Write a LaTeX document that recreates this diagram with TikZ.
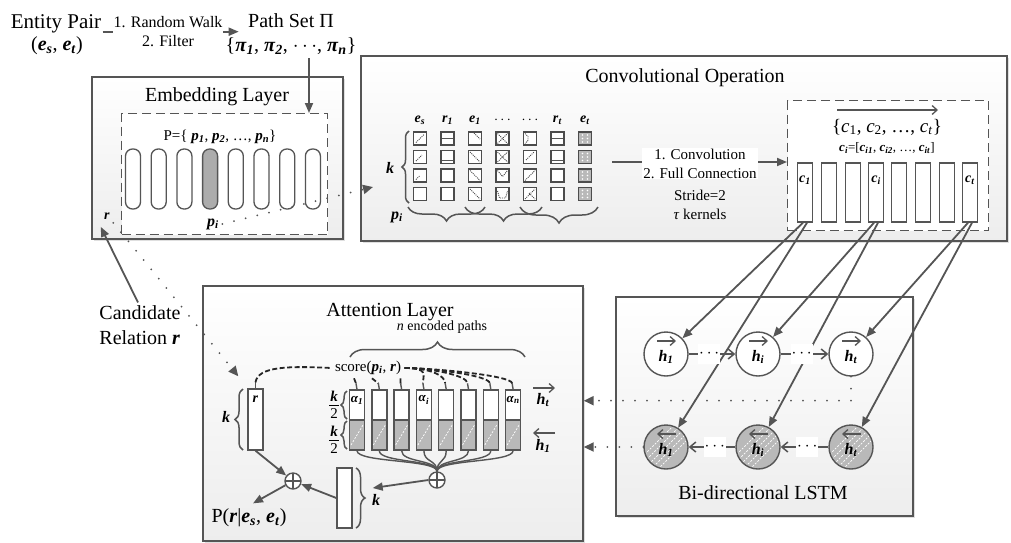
\documentclass[tikz,border=0pt]{standalone}
\usepackage{fontspec}
\setmainfont{Liberation Serif}
\usetikzlibrary{arrows.meta,decorations.pathreplacing,shadows,calc}
\newcommand{\bix}[1]{\textbf{\textit{#1}}}
\newcommand{\bsub}[2]{\bix{#1}\textsubscript{\bix{#2}}}
\definecolor{ln}{HTML}{555555}
\tikzset{
  t21/.style={font=\fontsize{21}{25}\selectfont},
  t20/.style={font=\fontsize{20}{25}\selectfont},
  t19/.style={font=\fontsize{19}{22}\selectfont},
  t16/.style={font=\fontsize{16}{19}\selectfont},
  t15/.style={font=\fontsize{15}{19}\selectfont},
  t14/.style={font=\fontsize{14}{17}\selectfont},
  t13/.style={font=\fontsize{13}{16}\selectfont},
  panel/.style={draw=ln, line width=1.7pt, top color=white, bottom color=gray!14, anchor=north west, inner sep=0pt,
     drop shadow={shadow xshift=2pt, shadow yshift=-2pt, opacity=0.25}},
  dbox/.style={draw=ln, line width=1.4pt, dash pattern=on 9pt off 5pt, fill=white, anchor=north west, inner sep=0pt},
  arr/.style={draw=ln, line width=1.8pt, -{Triangle[length=10pt,width=8pt]}},
  dotarr/.style={draw=ln, line width=2pt, line cap=round, dash pattern=on 0pt off 12pt, -{Triangle[length=10pt,width=9pt]}},
  thinarr/.style={draw=ln, line width=1.3pt, -{Straight Barb[length=5pt,width=9pt]}},
  chainarr/.style={draw=ln, line width=1.5pt, -{Straight Barb[length=6pt,width=10pt]}},
  dashc/.style={draw=black!85, line width=1.8pt, dash pattern=on 5pt off 2.5pt},
  vec/.style={draw=ln, line width=1.4pt, fill=white, minimum width=15pt, inner sep=0pt},
  pill/.style={draw=ln, line width=1.3pt, rounded corners=7pt, minimum width=15pt, minimum height=60pt, inner sep=0pt},
  brc/.style={draw=ln, line width=1.5pt, decorate, decoration={brace, amplitude=#1}},
  fcirc/.style={circle, draw=ln, line width=1.4pt, fill=white, minimum size=44pt, inner sep=0pt, font=\fontsize{16}{19}\selectfont},
  bcirc/.style={fcirc, fill=gray!55, path picture={\foreach \o in {-14,-7,0,7,14}{\draw[white, line width=0.7pt, dash pattern=on 2pt off 1.5pt] ($(path picture bounding box.center)+(\o-22,22)$) -- ++(44,-44);}}},
  oplus/.style={circle, draw=ln, line width=1.4pt, fill=white, minimum size=16pt, inner sep=0pt, path picture={\draw[ln, line width=1.2pt] (path picture bounding box.north) -- (path picture bounding box.south) (path picture bounding box.west) -- (path picture bounding box.east);}},
  cellb/.style={draw=gray!60!black, line width=1.5pt, fill=white},
  pat/.style={draw=gray!60!black, line width=0.9pt, dash pattern=on 1pt off 1pt},
  dotsn/.style={fill=white, inner sep=0pt, minimum width=22pt, minimum height=20pt, font=\fontsize{16}{16}\selectfont},
  halfd/.style={vec, minimum height=30pt, fill=gray!55, path picture={\draw[white, line width=0.7pt, dash pattern=on 2pt off 1.5pt] ($(path picture bounding box.center)+(-6,10)$) -- ++(12,-20);}},
  frac/.style={font=\fontsize{15}{17}\selectfont, align=center, inner sep=0pt},
}
\begin{document}
\begin{tikzpicture}[x=1pt,y=-1pt]
\useasboundingbox (0,0) rectangle (1011,542);

% ---------- panels ----------
\node[panel, minimum width=251pt, minimum height=162pt] (emb) at (91,76) {};
\node[panel, minimum width=646pt, minimum height=185pt] (conv) at (360,55) {};
\node[panel, minimum width=380pt, minimum height=255pt] (att) at (202,285) {};
\node[panel, minimum width=297pt, minimum height=219pt] (lstm) at (615,296) {};

% ---------- top ----------
\node[t21] (ep) at (56,24) {Entity Pair};
\node[t20] (eps) at (57,46) {(\bsub{e}{s}, \bsub{e}{t})};
\node[t20] (ps) at (291,21) {Path Set Π};
\node[t20] (pset) at (291,46) {\{\bsub{π}{1}, \bsub{π}{2}, $\cdots$, \bsub{π}{n}\}};
\coordinate (ws) at ($(ep.base east)+(-2,3)$);
\draw[arr, shorten >=6pt] (ws) -- (ws -| ps.west);
\node[t16, fill=white, align=center, inner sep=1pt] (rw) at (168,31.5) {1. Random Walk\\2. Filter};

% ---------- embedding ----------
\node[t20] (embt) at (217,97) {Embedding Layer};
\node[dbox, minimum width=206pt, minimum height=121pt] (embd) at (121,113) {};
\coordinate (pa) at (309,0);
\draw[arr] (pset.south -| pa) -- (embd.north -| pa);
\node[t15] (pp) at (220,137) {P=\{ \bsub{p}{1}, \bsub{p}{2}, …, \bsub{p}{n}\}};
\foreach \i/\f in {0/white,1/white,2/white,3/gray!65,4/white,5/white,6/white,7/white}
  \node[pill, fill=\f] (pl\i) at ({133+25.7*\i},179) {};
\node[t14] (rl) at (107,216) {\bix{r}};
\node[t16] (pi) at (213,224) {\bsub{p}{i}};

% ---------- convolution ----------
\node[t20] (convt) at (685,78) {Convolutional Operation};
\foreach \x/\t in {420/{\bsub{e}{s}},447.5/{\bsub{r}{1}},475/{\bsub{e}{1}},502.5/{$\cdots$},530/{$\cdots$},557.5/{\bsub{r}{t}},585/{\bsub{e}{t}}}
  \node[t14] at (\x,120) {\t};
\foreach \cx in {420,447.5,475,502.5,530,557.5}
  \foreach \cy in {138.5,157,175.5,194}
    \draw[cellb] (\cx-6.5,\cy-6.5) rectangle (\cx+6.5,\cy+6.5);
\foreach \cy in {138.5,157,175.5,194} {
  \draw[cellb, fill=gray!55] (578.5,\cy-6.5) rectangle (591.5,\cy+6.5);
  \foreach \dx in {-2.5,2.5} \foreach \dy in {-3.5,0,3.5} \fill[white] (585+\dx,\cy+\dy) circle[radius=0.9pt];
}
% cell patterns
\draw[pat] (416,142.5) -- (424,134.5);
\draw[pat] (416,161) -- (422,155);
\draw[pat] (416,179.5) -- (419.5,176);
\draw[ln, line width=1.3pt] (442,138.5) -- (453,138.5);
\draw[ln, line width=1.6pt] (442,160.5) -- (453,160.5);
\draw[pat] (474,133) -- (480,139);
\foreach \cy in {157,175.5,194} \draw[pat] (470,\cy-5) -- (480,\cy+5);
\foreach \cy in {138.5,157} {\draw[pat] (497.5,\cy-5) -- (507.5,\cy+5); \draw[pat] (497.5,\cy+5) -- (507.5,\cy-5);}
\draw[pat] (497.5,170.5) -- (502.5,176.5) -- (507.5,170.5);
\draw[pat] (497.5,191) -- (499.5,198) -- (505.5,198) -- (507.5,191);
\draw[pat] (525,133.5) -- (528,136.5) -- (528,140.5) -- (525,143.5);
\draw[pat] (526,160) -- (534,152);
\draw[pat] (525,180.5) -- (535,170.5);
\draw[pat] (525,199) -- (535,189); \draw[pat] (529,193) -- (535,199);
\draw[ln, line width=1.3pt] (552,138.5) -- (563,138.5);
\draw[ln, line width=1.6pt] (552,160.5) -- (563,160.5);
% braces
\draw[brc=7pt] (409,203) -- (409,131);
\node[t16] (kl) at (390,168) {\bix{k}};
\node[t16] (pil) at (397,217) {\bsub{p}{i}};
\draw[brc=14pt] (485,207) -- (408,207);
\draw[brc=14pt] (542,207) -- (465,207);
\draw[brc=16pt] (598,207) -- (520,207);
\coordinate (kin) at (373,187);
\draw[dotarr] (pi.east) -- (kin);

% conv right part
\node[dbox, minimum width=201pt, minimum height=130pt] (cd) at (787,100) {};
\coordinate (cvs) at (612,162);
\draw[arr] (cvs) -- (cvs -| cd.west);
\node[t15, fill=white, align=center, inner sep=1pt] (cvt1) at (700,163.5) {1. Convolution\\2. Full Connection};
\node[t15, align=center] (cvt2) at (700,205) {Stride=2\\\textit{τ} kernels};
\coordinate (ca) at (837,110);
\draw[thinarr] (ca) -- ++(101,0);
\node[t19] (cset) at (887,127) {\{\textit{c}\textsubscript{1}, \textit{c}\textsubscript{2}, …, \textit{c}\textsubscript{\textit{t}}\}};
\node[t13] (cdef) at (887,148) {\bsub{c}{i}=[\bsub{c}{i1}, \bsub{c}{i2}, …, \bsub{c}{it}]};
\foreach \i/\x in {1/805,2/829,3/853,4/876,5/899,6/923,7/947,8/970}
  \node[vec, minimum height=59pt] (cr\i) at (\x,192.5) {};
\node[t14] at (805,180) {\bsub{c}{1}};
\node[t14] at (876,180) {\bsub{c}{i}};
\node[t14] at (970,180) {\bsub{c}{t}};

% ---------- LSTM ----------
\node[t20] (lstmt) at (763,493) {Bi-directional LSTM};
\node[fcirc] (f1) at (666,354) {};
\node[fcirc] (f2) at (758,354) {};
\node[fcirc] (f3) at (851,354) {};
\node[bcirc] (b1) at (666,447) {};
\node[bcirc] (b2) at (758,447) {};
\node[bcirc] (b3) at (851,447) {};
\draw[arr] ($(cr1.south)+(-2,0)$) -- (f1);
\draw[arr] ($(cr1.south)+(2,0)$) -- (b1);
\draw[arr] ($(cr4.south)+(-2,0)$) -- (f2);
\draw[arr] ($(cr4.south)+(2,0)$) -- (b2);
\draw[arr] ($(cr8.south)+(-2,0)$) -- (f3);
\draw[arr] ($(cr8.south)+(2,0)$) -- (b3);
\draw[chainarr] (f1) -- (f2);
\draw[chainarr] (f2) -- (f3);
\draw[chainarr] (b3) -- (b2);
\draw[chainarr] (b2) -- (b1);
\node[dotsn] at ($(f1)!0.47!(f2)$) {$\cdots$};
\node[dotsn] at ($(f2)!0.47!(f3)$) {$\cdots$};
\node[dotsn] at ($(b1)!0.53!(b2)$) {$\cdots$};
\node[dotsn] at ($(b2)!0.53!(b3)$) {$\cdots$};
\foreach \n/\s in {f1/1,f2/i,f3/t} {
  \node[t16] at ($(\n)+(0,3)$) {\bsub{h}{\s}};
  \draw[thinarr] ($(\n)+(-9,-13)$) -- ($(\n)+(10,-13)$);
}
\foreach \n/\s in {b1/1,b2/i,b3/t} {
  \node[t16] at ($(\n)+(0,3)$) {\bsub{h}{\s}};
  \draw[thinarr] ($(\n)+(10,-13)$) -- ($(\n)+(-9,-13)$);
}

% ---------- attention ----------
\node[t20] (attt) at (390,312) {Attention Layer};
\node[t14] (nep) at (442,327) {\textit{n} encoded paths};
\draw[brc=15pt] (350,357) -- (525,357);
\node[t15] (score) at (368,368) {score(\bsub{p}{i}, \bix{r})};
\node[vec, minimum height=61pt] (rv) at (255.5,419.5) {};
\node[t14] at (255.5,399) {\bix{r}};
\draw[brc=8pt] (243,450) -- (243,389);
\node[t16] (kr) at (226,417) {\bix{k}};
\foreach \i in {1,...,8} {
  \pgfmathsetmacro\xx{357+22.3*(\i-1)}
  \node[vec, minimum height=30pt] (au\i) at (\xx,405) {};
  \node[halfd] (ad\i) at (\xx,435) {};
  \draw[ln, line width=1.4pt] (au\i.north) -- ++(-1,-6);
}
\node[t13] at (357,400) {\bsub{α}{1}};
\node[t13] at (423.9,400) {\bsub{α}{i}};
\node[t13] at (513.1,400) {\bsub{α}{n}};
\draw[ln, line width=1.4pt] (rv.north) -- ++(0,-6);
\draw[dashc] ($(rv.north)+(0,-6)$) .. controls (258,366) and (290,366) .. (score.west);
\draw[dashc] ($(score.south)+(-14,0)$) -- ($(au1.north)+(-1,-6)$);
\draw[dashc] ($(score.south)+(4,0)$) -- ($(au2.north)+(-1,-6)$);
\draw[dashc] ($(score.south east)+(-4,0)$) -- ($(au3.north)+(-1,-6)$);
\foreach \i in {4,...,8}
  \draw[dashc] (score.east) .. controls +(25,0) and +(0,-8) .. ($(au\i.north)+(-1,-6)$);
\draw[brc=6pt] (347,419) -- (347,391);
\draw[brc=6pt] (347,449) -- (347,421);
\node[frac] (kh1) at (334,405) {\bix{k}\\2};
\draw[black, line width=0.8pt] ($(kh1.west)+(-1,0)$) -- ($(kh1.east)+(1,0)$);
\node[frac] (kh2) at (334,440) {\bix{k}\\2};
\draw[black, line width=0.8pt] ($(kh2.west)+(-1,0)$) -- ($(kh2.east)+(1,0)$);
\node[t16] (hT) at (543,400) {\bsub{h}{t}};
\draw[thinarr] ($(hT)+(-10,-12)$) -- ($(hT)+(12,-12)$);
\node[t16] (hB) at (543,446) {\bsub{h}{1}};
\draw[thinarr] ($(hB)+(12,-13)$) -- ($(hB)+(-10,-13)$);
\node[oplus] (op1) at (437,480) {};
\foreach \i in {1,...,8}
  \draw[ln, line width=1.4pt] (ad\i.south) .. controls +(0,12) and +(0,-12) .. (op1.north);
\node[vec, minimum height=60pt] (ov) at (344.5,498) {};
\draw[brc=9pt] (356,468) -- (356,528);
\node[t16] (kov) at (376,500) {\bix{k}};
\draw[arr] (op1.west) -- ($(ov.east)+(20,-10)$);
\node[oplus] (op2) at (293,481) {};
\draw[arr] (ov.west) -- (op2);
\draw[arr] (rv.south) -- (op2);
\node[t20] (prob) at (249,518) {P(\bix{r}|\bsub{e}{s}, \bsub{e}{t})};
\draw[arr] (op2) -- ($(prob.north)+(4,-2)$);

% LSTM -> attention dotted
\coordinate (dd) at ($(f3.south)+(0,24)$);
\draw[dotarr] (f3.south) -- (dd) -- (dd -| att.east);
\draw[dotarr] (b1.west) -- (b1.west -| att.east);

% ---------- candidate relation ----------
\node[t20, align=left] (cand) at (140,325.5) {Candidate\\Relation \bix{r}};
\draw[arr] ($(cand.north)+(-2,0)$) -- ($(rl.south west)+(0,4)$);
\draw[dotarr] (rl.south east) -- ($(rv.north west)+(-9,-12)$);
\end{tikzpicture}
\end{document}
